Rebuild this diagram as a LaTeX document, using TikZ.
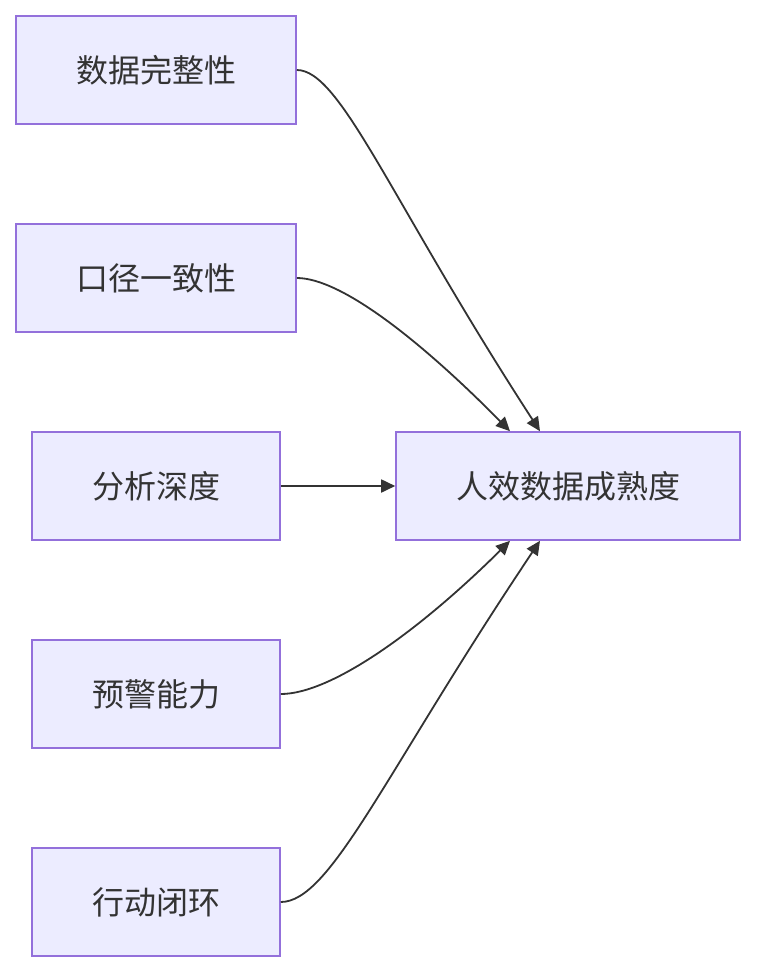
\documentclass[tikz,border=0pt]{standalone}
\usepackage{fontspec}
\newfontfamily\cjk{Noto Sans CJK SC}
\usetikzlibrary{arrows.meta}
\definecolor{boxfill}{HTML}{ECECFF}
\definecolor{boxline}{HTML}{9370DB}
\definecolor{ink}{HTML}{333333}
\begin{document}
\begin{tikzpicture}[x=1pt,y=-1pt,
  box/.style={draw=boxline,fill=boxfill,line width=1.6pt,minimum height=108pt,inner sep=0pt,font=\cjk\fontsize{32}{36}\selectfont,text=ink},
  link/.style={draw=ink,line width=1.8pt,-{Triangle[length=14pt,width=13pt]}}]
\useasboundingbox (0,0) rectangle (756,972);
\node[box,minimum width=280pt] (a) at (156,70) {数据完整性};
\node[box,minimum width=280pt] (b) at (156,278) {口径一致性};
\node[box,minimum width=248pt] (c) at (156,486) {分析深度};
\node[box,minimum width=248pt] (d) at (156,694) {预警能力};
\node[box,minimum width=248pt] (e) at (156,902) {行动闭环};
\node[box,minimum width=344pt] (f) at (568,486) {人效数据成熟度};
\coordinate (fa) at ([xshift=-28pt]f.north);
\coordinate (fb) at ([xshift=-58pt]f.north);
\coordinate (fd) at ([xshift=-58pt]f.south);
\coordinate (fe) at ([xshift=-28pt]f.south);
\draw[link] (a.east) .. controls +(44,0) and (390,200) .. (fa);
\draw[link] (b.east) .. controls +(44,0) and (420,340) .. (fb);
\draw[link] (c.east) -- (f.west);
\draw[link] (d.east) .. controls +(50,0) and (418,632) .. (fd);
\draw[link] (e.east) .. controls +(50,0) and (385,772) .. (fe);
\end{tikzpicture}
\end{document}
